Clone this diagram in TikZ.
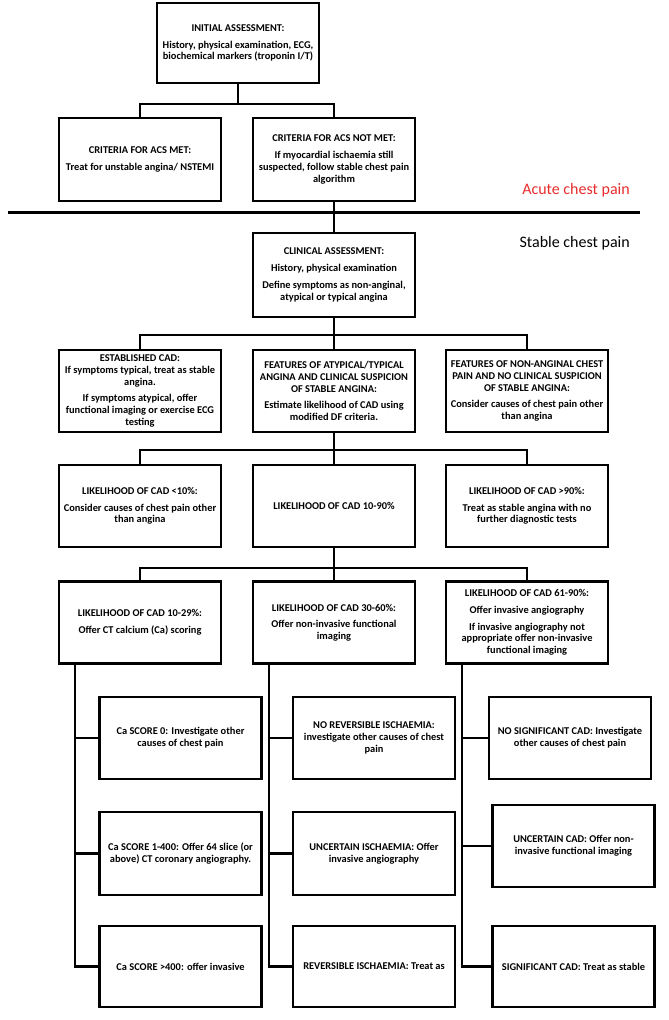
\documentclass[tikz,border=0pt]{standalone}
\usepackage{fontspec}
\setmainfont{Carlito}
\definecolor{acutered}{RGB}{232,44,44}

\tikzset{
  box/.style={draw, line width=2.4pt, minimum width=162pt, minimum height=82pt,
    align=center, inner sep=1pt, font=\bfseries\fontsize{10.4}{11.7}\selectfont},
  link/.style={line width=2.4pt},
  part/.style={anchor=east, inner sep=0pt, font=\fontsize{16}{18}\selectfont},
}

\begin{document}
\begin{tikzpicture}[x=1pt,y=-1pt]
    \useasboundingbox (0,0) rectangle (669,1020);

    % Acute chest pain
    \node[box, minimum height=80pt] (init) at (238,43)
      {INITIAL ASSESSMENT:\\[5pt] History, physical examination, ECG,\\ biochemical markers (troponin I/T)};
    \node[box, minimum height=83pt] (acsmet) at (140,159.5)
      {CRITERIA FOR ACS MET:\\[5pt] Treat for unstable angina/ NSTEMI};
    \node[box, minimum height=83pt] (acsnot) at (334,159.5)
      {CRITERIA FOR ACS NOT MET:\\[5pt] If myocardial ischaemia still\\ suspected, follow stable chest pain\\ algorithm};

    \coordinate (sepl) at (8,212);
    \coordinate (sepr) at (640,212);
    \draw[line width=3pt] (sepl) -- (sepr);
    \node[part, text=acutered] (acute) at (630,190) {Acute chest pain};
    \node[part] (stable) at (630,243) {Stable chest pain};

    % Stable chest pain
    \node[box, minimum height=84pt] (clin) at (334,275)
      {CLINICAL ASSESSMENT:\\[5pt] History, physical examination\\[5pt] Define symptoms as non-anginal,\\ atypical or typical angina};

    \node[box] (estab) at (140,391)
      {ESTABLISHED CAD:\\ If symptoms typical, treat as stable\\ angina.\\[5pt] If symptoms atypical, offer\\ functional imaging or exercise ECG\\ testing};
    \node[box] (feat) at (334,391)
      {FEATURES OF ATYPICAL/TYPICAL\\ ANGINA AND CLINICAL SUSPICION\\ OF STABLE ANGINA:\\[5pt] Estimate likelihood of CAD using\\ modified DF criteria.};
    \node[box] (nonang) at (527,391)
      {FEATURES OF NON-ANGINAL CHEST\\ PAIN AND NO CLINICAL SUSPICION\\ OF STABLE ANGINA:\\[5pt] Consider causes of chest pain other\\ than angina};

    \node[box] (low) at (140,506)
      {LIKELIHOOD OF CAD <10\%:\\[5pt] Consider causes of chest pain other\\ than angina};
    \node[box] (mid) at (334,506) {LIKELIHOOD OF CAD 10-90\%};
    \node[box] (high) at (527,506)
      {LIKELIHOOD OF CAD >90\%:\\[5pt] Treat as stable angina with no\\ further diagnostic tests};

    \node[box] (ctca) at (140,622.5)
      {LIKELIHOOD OF CAD 10-29\%:\\[5pt] Offer CT calcium (Ca) scoring};
    \node[box] (func) at (334,622.5)
      {LIKELIHOOD OF CAD 30-60\%:\\[5pt] Offer non-invasive functional\\ imaging};
    \node[box] (inva) at (527,622.5)
      {LIKELIHOOD OF CAD 61-90\%:\\[5pt] Offer invasive angiography\\[5pt] If invasive angiography not\\ appropriate offer non-invasive\\ functional imaging};

    % Results
    \node[box] (ca0) at (180.5,738) {Ca SCORE 0: Investigate other\\ causes of chest pain};
    \node[box] (noisch) at (374,738) {NO REVERSIBLE ISCHAEMIA:\\ investigate other causes of chest\\ pain};
    \node[box] (nocad) at (570,738) {NO SIGNIFICANT CAD: Investigate\\ other causes of chest pain};
    \node[box, minimum height=83pt] (ca1) at (180.5,853.5) {Ca SCORE 1-400: Offer 64 slice (or\\ above) CT coronary angiography.};
    \node[box, minimum height=83pt] (unisch) at (374,853.5) {UNCERTAIN ISCHAEMIA: Offer\\ invasive angiography};
    \node[box] (uncad) at (573.5,846) {UNCERTAIN CAD: Offer non-\\ invasive functional imaging};
    \node[box, minimum height=81pt] (ca4) at (180.5,966.5) {Ca SCORE >400: offer invasive};
    \node[box, minimum height=81pt] (revisch) at (374,966.5) {REVERSIBLE ISCHAEMIA: Treat as};
    \node[box, minimum height=81pt] (sigcad) at (573.5,966.5) {SIGNIFICANT CAD: Treat as stable};

    % Edges
    \draw[link] (init.south) -- ++(0,20) coordinate (b1);
    \foreach \x in {acsmet,acsnot} \draw[link] (b1) -| (\x.north);
    \draw[link] (acsnot.south) -- (clin.north);

    \draw[link] (clin.south) -- ++(0,17) coordinate (b2);
    \foreach \x in {estab,feat,nonang} \draw[link] (b2) -| (\x.north);

    \draw[link] (feat.south) -- ++(0,17) coordinate (b3);
    \foreach \x in {low,mid,high} \draw[link] (b3) -| (\x.north);

    \draw[link] (mid.south) -- ++(0,20) coordinate (b4);
    \foreach \x in {ctca,func,inva} \draw[link] (b4) -| (\x.north);

    % (likelihood, result)
    \foreach \p/\a/\b/\c in {ctca/ca0/ca1/ca4, func/noisch/unisch/revisch, inva/nocad/uncad/sigcad}
      \foreach \x in {\a,\b,\c} \draw[link] ([xshift=17pt]\p.south west) |- (\x.west);

\end{tikzpicture}
\end{document}
